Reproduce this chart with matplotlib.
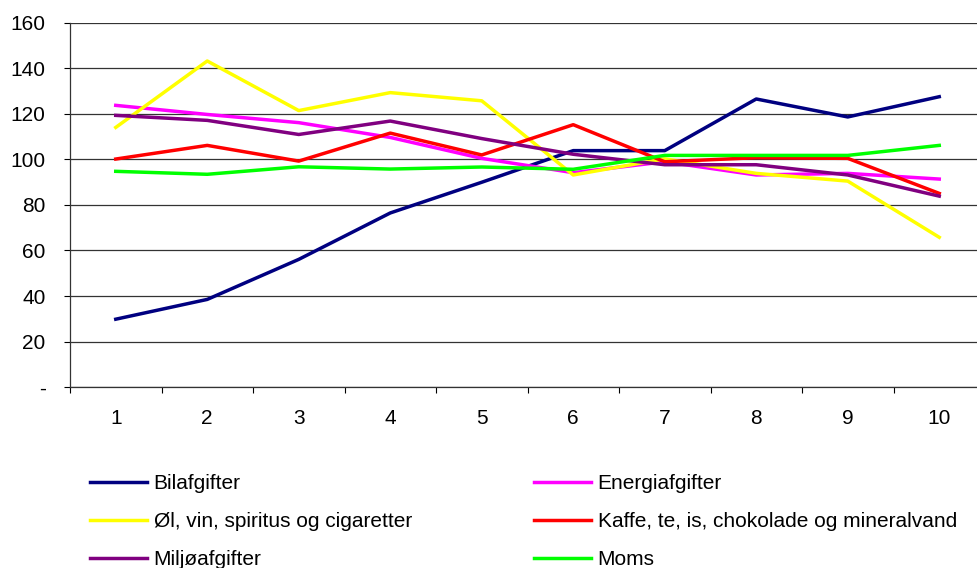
import matplotlib.pyplot as plt
import numpy as np

plt.rcParams['font.family'] = ['Liberation Sans', 'DejaVu Sans']

kategorier = [1, 2, 3, 4, 5, 6, 7, 8, 9, 10]
bilafgifter = [29.8, 38.5, 56.1, 76.5, 90.0, 103.9, 103.9, 126.6, 118.7, 127.6]
energiafgifter = [123.8, 119.8, 116.2, 109.7, 100.5, 94.2, 99.0, 93.2, 93.9, 91.4]
oel_vin = [114.1, 143.3, 121.5, 129.4, 125.8, 93.2, 100.3, 93.9, 90.5, 65.8]
kaffe = [100.2, 106.2, 99.3, 111.6, 102.0, 115.3, 99.0, 100.8, 100.5, 85.1]
miljoeafgifter = [119.4, 117.2, 111.0, 116.9, 109.2, 102.3, 97.7, 97.7, 93.2, 83.9]
moms = [94.8, 93.5, 96.8, 95.8, 96.7, 95.7, 101.8, 101.8, 101.8, 106.2]

serier = [
    ('Bilafgifter', bilafgifter, '#000080'),
    ('Energiafgifter', energiafgifter, '#FF00FF'),
    ('Øl, vin, spiritus og cigaretter', oel_vin, '#FFFF00'),
    ('Kaffe, te, is, chokolade og mineralvand', kaffe, '#FF0000'),
    ('Miljøafgifter', miljoeafgifter, '#800080'),
    ('Moms', moms, '#00FF00'),
]

fs = 15

fig = plt.figure(figsize=(9.77, 5.68), dpi=100)
ax = fig.add_axes([70 / 977, 181 / 568, 915 / 977, 364 / 568])

linjer = {}
for navn, vaerdier, farve in serier:
    l, = ax.plot(kategorier, vaerdier, color=farve, lw=2.5, label=navn)
    linjer[navn] = l

ax.set_xlim(0.5, 10.5)
ax.set_ylim(0, 160)
ax.set_yticks(np.arange(0, 161, 20))
ax.set_yticklabels(['-'] + [str(v) for v in range(20, 161, 20)])
ax.set_xticks(kategorier)
ax.set_xticks(np.arange(0.5, 10.6, 1), minor=True)
ax.tick_params(axis='x', which='major', length=0, pad=16, labelsize=fs)
ax.tick_params(axis='x', which='minor', length=4.5, direction='out', width=0.8)
ax.tick_params(axis='y', length=4.5, direction='out', width=0.8, labelsize=fs, pad=13)
ax.yaxis.grid(True, color='#333333', lw=0.9)
ax.set_axisbelow(True)
for s in ['top', 'right']:
    ax.spines[s].set_visible(False)
for s in ['left', 'bottom']:
    ax.spines[s].set_color('#333333')
    ax.spines[s].set_linewidth(0.9)

# to legender, en for hver kolonne
kol1 = ['Bilafgifter', 'Øl, vin, spiritus og cigaretter', 'Miljøafgifter']
kol2 = ['Energiafgifter', 'Kaffe, te, is, chokolade og mineralvand', 'Moms']
for navne, x0 in [(kol1, 90), (kol2, 534)]:
    fig.legend([linjer[n] for n in navne], navne, loc='upper left',
               bbox_to_anchor=(x0 / 977, 1 - 474 / 568), borderpad=0,
               borderaxespad=0, frameon=False, fontsize=fs,
               handlelength=2.75, handletextpad=0.3, labelspacing=0.92)

fig.savefig('out.png', dpi=100)
